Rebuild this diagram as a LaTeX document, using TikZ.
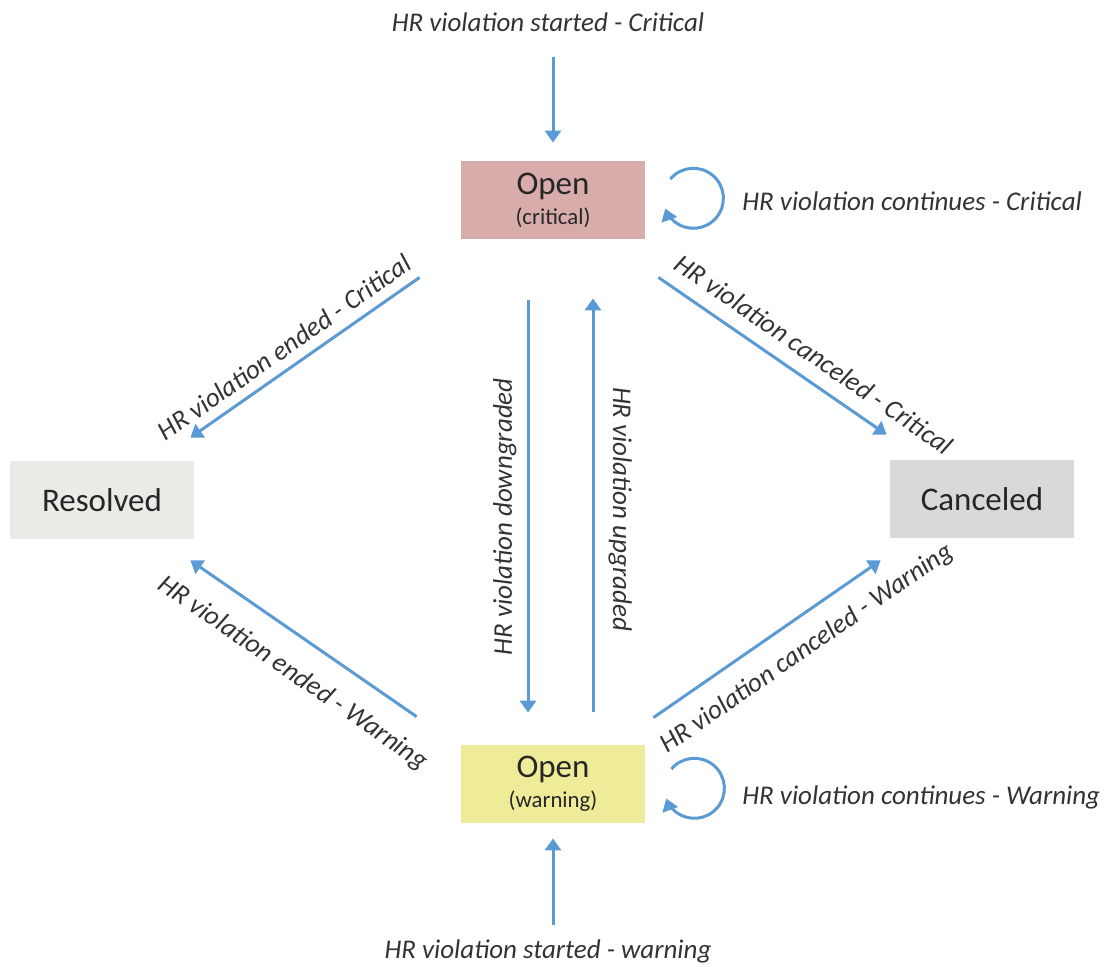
\documentclass[tikz,border=0pt]{standalone}
\usepackage{fontspec}
\setmainfont{Carlito}
\usepackage{tikz}
\usetikzlibrary{arrows.meta}
\definecolor{flowblue}{HTML}{5B9BD5}
\definecolor{critfill}{HTML}{D9ACAC}
\definecolor{warnfill}{HTML}{EEEC98}
\definecolor{resfill}{HTML}{EBEAE6}
\definecolor{canfill}{HTML}{D9D9D9}
\definecolor{lbltext}{HTML}{333333}
\newcommand{\statenote}[1]{{\fontsize{11.4}{13}\selectfont #1}}

\begin{document}
\begin{tikzpicture}[x=0.5pt, y=-0.5pt,
  state/.style={minimum width=92pt, minimum height=39pt, inner sep=0pt, align=center,
    font=\fontsize{16.5}{18}\selectfont, text=black!85},
  flow/.style={flowblue, line width=1.5pt, -{Triangle[length=6pt,width=8pt]}},
  lbl/.style={font=\fontsize{13.5}{16}\selectfont\itshape, text=lbltext, inner sep=1pt}]
  \useasboundingbox (0,0) rectangle (1107,966);

  \node[state, fill=critfill] (opc) at (553,200) {Open\\[-3pt]\statenote{(critical)}};
  \node[state, fill=resfill] (res) at (102,500) {Resolved};
  \node[state, fill=canfill] (can) at (982,499) {Canceled};
  \node[state, fill=warnfill] (opw) at (553,784) {Open\\[-3pt]\statenote{(warning)}};

  \node[lbl] (stc) at (548,22) {HR violation started - Critical};
  \node[lbl] (stw) at (548,951) {HR violation started - warning};
  \node[lbl, anchor=west] (ctc) at (740,201) {HR violation continues - Critical};
  \node[lbl, anchor=west] (ctw) at (740,797) {HR violation continues - Warning};

  \draw[flow, shorten <=11.5pt, shorten >=9pt] (opc.north |- stc.south) -- (opc.north);
  \draw[flow, shorten <=5.75pt, shorten >=7.5pt] (opw.south |- stw.north) -- (opw.south);

  \draw[flow] ([shift={(-41,38)}]opc.south west) -- node[lbl, sloped, pos=0.54, above=3.6pt] {HR violation ended - Critical} ([shift={(-4,-23)}]res.north east);
  \draw[flow] ([shift={(-44,-28)}]opw.north west) -- node[lbl, sloped, pos=0.46, below=9.8pt] {HR violation ended - Warning} ([shift={(-4,21)}]res.south east);
  \draw[flow] ([shift={(13,38)}]opc.south east) -- node[lbl, sloped, pos=0.62, above=6pt] {HR violation canceled - Critical} ([shift={(-3,-25)}]can.north west);
  \draw[flow] ([shift={(8,-27)}]opw.north east) -- node[lbl, sloped, pos=0.6, below=7.8pt] {HR violation canceled - Warning} ([shift={(-9,22)}]can.south west);
  \draw[flow] ([shift={(-25,61)}]opc.south) -- node[lbl, pos=0.525, rotate=90, anchor=south, inner ysep=5pt] {HR violation downgraded} ([shift={(-25,-32)}]opw.north);
  \draw[flow] ([shift={(40,-33)}]opw.north) -- node[lbl, pos=0.49, rotate=-90, anchor=south, inner ysep=7pt] {HR violation upgraded} ([shift={(40,59)}]opc.south);

  \draw[flow] ([shift={(25,-21)}]opc.east) arc[start angle=140, end angle=-160, radius=15pt];
  \draw[flow] ([shift={(26,-15)}]opw.east) arc[start angle=140, end angle=-160, radius=15pt];
\end{tikzpicture}
\end{document}
